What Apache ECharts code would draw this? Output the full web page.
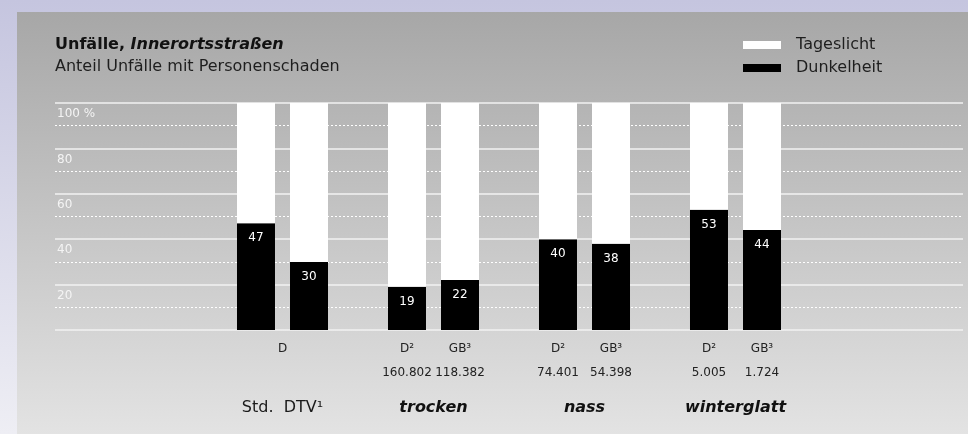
<!DOCTYPE html>
<html>
<head>
<meta charset="utf-8">
<script src="https://cdn.jsdelivr.net/npm/echarts@6/dist/echarts.min.js"></script>
<style>
  html, body { margin: 0; padding: 0; }
  #main { width: 968px; height: 434px; }
</style>
</head>
<body>
<div id="main"></div>
<script>
// Gruppen (Kategorien) und Beschriftungen
var groups = ['Std.  DTV¹', 'trocken', 'nass', 'winterglatt'];
var leftLabels = ['D', 'D²', 'D²', 'D²'];
var rightLabels = ['', 'GB³', 'GB³', 'GB³'];
var leftCounts = ['', '160.802', '74.401', '5.005'];
var rightCounts = ['', '118.382', '54.398', '1.724'];

// Anteile in % (linker / rechter Balken je Gruppe)
var darkLeft = [47, 19, 40, 53];
var lightLeft = [53, 81, 60, 47];
var darkRight = [30, 22, 38, 44];
var lightRight = [70, 78, 62, 56];

var yTickLabels = ['', '20', '40', '60', '80', '100 %'];

var font = 'DejaVu Sans';
var chart = echarts.init(document.getElementById('main'));

var darkLabel = {
  show: true,
  position: 'insideTop',
  distance: 9,
  color: '#fff',
  fontFamily: font,
  fontSize: 12
};

var option = {
  animation: false,
  backgroundColor: new echarts.graphic.LinearGradient(0, 0, 0, 1, [
    { offset: 0, color: '#c5c5df' },
    { offset: 1, color: '#eeeef4' }
  ]),
  graphic: [{
    type: 'rect',
    z: -100,
    shape: { x: 17, y: 12, width: 960, height: 430 },
    style: {
      fill: new echarts.graphic.LinearGradient(0, 0, 0, 1, [
        { offset: 0, color: '#a7a7a7' },
        { offset: 1, color: '#e4e4e4' }
      ])
    }
  }],
  title: {
    left: 55,
    top: 37,
    padding: 0,
    itemGap: 6,
    text: '{a|Unfälle, }{b|Innerortsstraßen}',
    textStyle: {
      rich: {
        a: { fontFamily: font, fontSize: 16, fontWeight: 'bold', color: '#111' },
        b: { fontFamily: font, fontSize: 16, fontWeight: 'bold', fontStyle: 'italic', color: '#111' }
      }
    },
    subtext: 'Anteil Unfälle mit Personenschaden',
    subtextStyle: { fontFamily: font, fontSize: 16, color: '#1e1e1e' }
  },
  legend: {
    orient: 'vertical',
    left: 743,
    top: 37,
    padding: 0,
    itemWidth: 38,
    itemHeight: 8,
    itemGap: 7,
    icon: 'rect',
    data: ['Tageslicht', 'Dunkelheit'],
    textStyle: { fontFamily: font, fontSize: 16, color: '#1e1e1e', padding: [0, 0, 0, 10] }
  },
  grid: [
    { left: 207, width: 604, top: 103, bottom: 104 },
    { left: 55, right: 5, top: 103, bottom: 104 }
  ],
  xAxis: [
    {
      type: 'category',
      gridIndex: 0,
      data: groups,
      axisLine: { show: false },
      axisTick: { show: false },
      axisLabel: {
        interval: 0,
        margin: 8,
        formatter: function (value, idx) {
          var row1 = rightLabels[idx]
            ? '{s|' + leftLabels[idx] + '}{s|' + rightLabels[idx] + '}'
            : '{w|' + leftLabels[idx] + '}';
          var row2 = leftCounts[idx]
            ? '{n|' + leftCounts[idx] + '}{n|' + rightCounts[idx] + '}'
            : '{nw| }';
          var row3 = idx === 0 ? '{gr|' + value + '}' : '{gb|' + value + '}';
          return row1 + '\n' + row2 + '\n' + row3;
        },
        rich: {
          s: { width: 53, align: 'center', fontFamily: font, fontSize: 12, color: '#222', lineHeight: 22 },
          w: { width: 106, align: 'center', fontFamily: font, fontSize: 12, color: '#222', lineHeight: 22 },
          n: { width: 53, align: 'center', fontFamily: font, fontSize: 12, color: '#222', lineHeight: 25 },
          nw: { width: 106, align: 'center', fontFamily: font, fontSize: 12, lineHeight: 25 },
          gr: { align: 'center', fontFamily: font, fontSize: 16, color: '#1a1a1a', lineHeight: 46 },
          gb: { align: 'center', fontFamily: font, fontSize: 16, fontWeight: 'bold', fontStyle: 'italic', color: '#111', lineHeight: 46 }
        }
      }
    },
    {
      type: 'value',
      gridIndex: 1,
      show: false,
      splitLine: { show: false }
    }
  ],
  yAxis: [
    {
      type: 'value',
      gridIndex: 0,
      min: 0,
      max: 100,
      show: false
    },
    {
      type: 'value',
      gridIndex: 1,
      min: 0,
      max: 100,
      interval: 20,
      axisLine: { show: false },
      axisTick: { show: false },
      axisLabel: {
        inside: true,
        margin: 2,
        verticalAlign: 'top',
        lineHeight: 22,
        color: '#f4f4f4',
        fontFamily: font,
        fontSize: 12,
        formatter: function (v, i) { return yTickLabels[i]; }
      },
      splitLine: { show: true, lineStyle: { color: '#f2f2f2', width: 1.5 } },
      minorTick: { show: false, splitNumber: 2 },
      minorSplitLine: { show: true, lineStyle: { color: '#ffffff', width: 1, type: [2, 2] } }
    }
  ],
  series: [
    {
      name: 'Dunkelheit', type: 'bar', stack: 'links', xAxisIndex: 0, yAxisIndex: 0,
      barWidth: 38, barGap: '39.5%',
      itemStyle: { color: '#000' },
      label: darkLabel,
      data: darkLeft
    },
    {
      name: 'Tageslicht', type: 'bar', stack: 'links', xAxisIndex: 0, yAxisIndex: 0,
      barWidth: 38,
      itemStyle: { color: '#fff' },
      data: lightLeft
    },
    {
      name: 'Dunkelheit', type: 'bar', stack: 'rechts', xAxisIndex: 0, yAxisIndex: 0,
      barWidth: 38, barGap: '39.5%',
      itemStyle: { color: '#000' },
      label: darkLabel,
      data: darkRight
    },
    {
      name: 'Tageslicht', type: 'bar', stack: 'rechts', xAxisIndex: 0, yAxisIndex: 0,
      barWidth: 38,
      itemStyle: { color: '#fff' },
      data: lightRight
    }
  ]
};

chart.setOption(option);
</script>
</body>
</html>
